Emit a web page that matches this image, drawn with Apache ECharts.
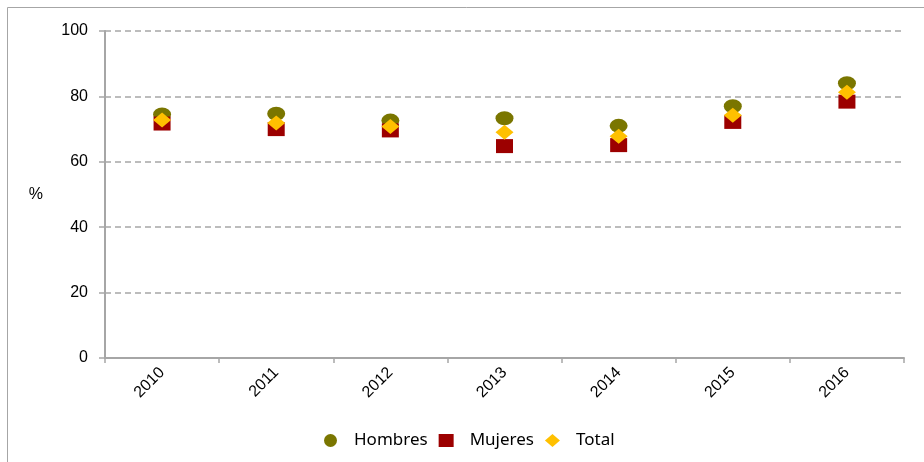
<!DOCTYPE html>
<html>
<head>
<meta charset="utf-8">
<script src="https://cdn.jsdelivr.net/npm/echarts@6/dist/echarts.min.js"></script>
<style>
    html, body { margin: 0; padding: 0; background: #fff; }
    #chart { width: 924px; height: 462px; }
</style>
</head>
<body>
<div id="chart"></div>
<script>
// años
var years = ['2010', '2011', '2012', '2013', '2014', '2015', '2016'];
// valores en %
var hombres = [74.5, 74.7, 72.6, 73.3, 71.0, 77.0, 84.0];
var mujeres = [71.7, 70.0, 69.6, 64.8, 65.1, 72.2, 78.4];
var total = [72.8, 71.9, 70.8, 69.0, 67.8, 74.2, 81.3];
var yTicks = [0, 20, 40, 60, 80, 100];

var chart = echarts.init(document.getElementById('chart'));

var option = {
    animation: false,
    graphic: [
        {
            type: 'polyline',
            shape: { points: [[7.5, 470], [7.5, 7.5], [930, 7.5]] },
            style: { stroke: '#a6a6a6', lineWidth: 1, fill: null },
            silent: true
        }
    ],
    grid: {
        left: 105,
        right: 20,
        top: 31,
        bottom: 104
    },
    legend: {
        left: 319,
        top: 427,
        itemWidth: 15,
        itemHeight: 13,
        itemGap: 11,
        textStyle: {
            fontFamily: 'Noto Sans',
            fontSize: 17,
            color: '#000',
            padding: [0, 0, 0, 11]
        },
        data: [
            { name: 'Hombres', icon: 'circle' },
            { name: 'Mujeres', icon: 'rect' },
            { name: 'Total', icon: 'diamond' }
        ]
    },
    xAxis: {
        type: 'category',
        data: years,
        axisLine: { lineStyle: { color: '#a6a6a6', width: 2 } },
        axisTick: { show: true, length: 5, lineStyle: { color: '#a6a6a6', width: 1.5 } },
        axisLabel: {
            rotate: 45,
            margin: 12,
            color: '#000',
            fontFamily: 'Liberation Sans',
            fontSize: 16
        },
        splitLine: { show: false }
    },
    yAxis: {
        type: 'value',
        min: yTicks[0],
        max: yTicks[yTicks.length - 1],
        interval: 20,
        name: '%',
        nameLocation: 'middle',
        nameRotate: 0,
        nameGap: 62,
        nameTextStyle: {
            color: '#000',
            fontFamily: 'Liberation Sans',
            fontSize: 16
        },
        axisLine: { show: true, lineStyle: { color: '#a6a6a6', width: 2 } },
        axisTick: { show: true, length: 6, lineStyle: { color: '#a6a6a6', width: 1.5 } },
        axisLabel: {
            margin: 17,
            color: '#000',
            fontFamily: 'Liberation Sans',
            fontSize: 16
        },
        splitLine: {
            lineStyle: { color: '#a6a6a6', width: 1.5, type: [6, 4] }
        }
    },
    series: [
        {
            name: 'Hombres',
            type: 'scatter',
            symbol: 'circle',
            symbolSize: [18, 14],
            itemStyle: { color: '#7a7600', opacity: 1 },
            data: hombres
        },
        {
            name: 'Mujeres',
            type: 'scatter',
            symbol: 'rect',
            symbolSize: [17, 14],
            itemStyle: { color: '#9c0000', opacity: 1 },
            data: mujeres
        },
        {
            name: 'Total',
            type: 'scatter',
            symbol: 'diamond',
            symbolSize: [18, 15],
            itemStyle: { color: '#ffc000', opacity: 1 },
            data: total
        }
    ]
};

chart.setOption(option);
</script>
</body>
</html>
